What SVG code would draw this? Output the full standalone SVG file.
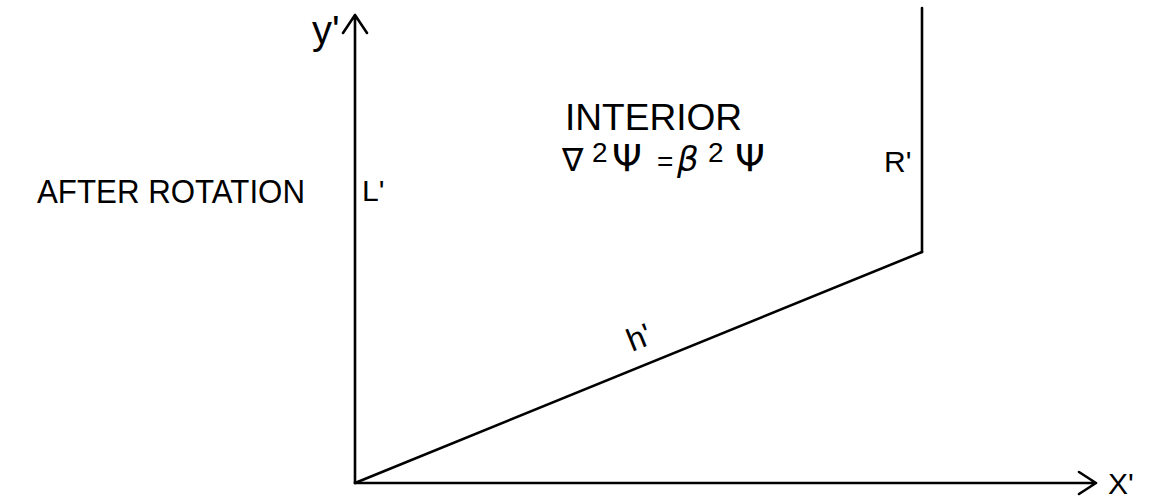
<svg xmlns="http://www.w3.org/2000/svg" width="1152" height="498" viewBox="0 0 1152 498">
<style>
.ln{stroke:#000;stroke-width:2.6;fill:none;stroke-linecap:round;stroke-linejoin:round}
.t{font-family:"Liberation Sans",Arial,sans-serif;fill:#000}
.g{font-family:"DejaVu Sans",sans-serif;fill:#000}
</style>
<rect width="1152" height="498" fill="#fff"/>
<g id="connectors">
<path id="y-axis" class="ln" d="M355,483 L355,15 M343,33 L355,15 L367,33"/>
<path id="x-axis" class="ln" d="M355,483 L1096,483 M1079,472 L1096,483 L1079,494"/>
<path id="right-boundary" class="ln" d="M922,8 L922,252"/>
<path id="bottom-boundary" class="ln" d="M355,483 L922,252"/>
</g>
<g id="label-after">
<text class="t" x="37" y="203" font-size="34" textLength="268" lengthAdjust="spacingAndGlyphs">AFTER ROTATION</text>
</g>
<g id="label-y">
<text class="t" x="312" y="44" font-size="40">y'</text>
</g>
<g id="label-L">
<text class="t" x="362" y="201" font-size="30">L'</text>
</g>
<g id="label-R">
<text class="t" x="884" y="172" font-size="30">R'</text>
</g>
<g id="label-X">
<text class="t" x="1108" y="494" font-size="30">X'</text>
</g>
<g id="label-h">
<text class="t" font-size="32" transform="translate(632,352) rotate(-22)">h'</text>
</g>
<g id="interior">
<text class="t" x="565" y="130" font-size="36" textLength="177" lengthAdjust="spacingAndGlyphs">INTERIOR</text>
<text class="g" y="171"><tspan x="562" font-size="32">∇</tspan><tspan x="592" y="162" font-family="Liberation Sans" font-size="28">2</tspan><tspan x="612" y="171" font-size="38">Ψ</tspan><tspan x="657" y="171" font-family="Liberation Sans" font-size="28">=</tspan><tspan x="677" y="171" font-style="italic" font-size="34">β</tspan><tspan x="708" y="162" font-family="Liberation Sans" font-size="28">2</tspan><tspan x="735" y="171" font-size="38">Ψ</tspan></text>
</g>
</svg>
